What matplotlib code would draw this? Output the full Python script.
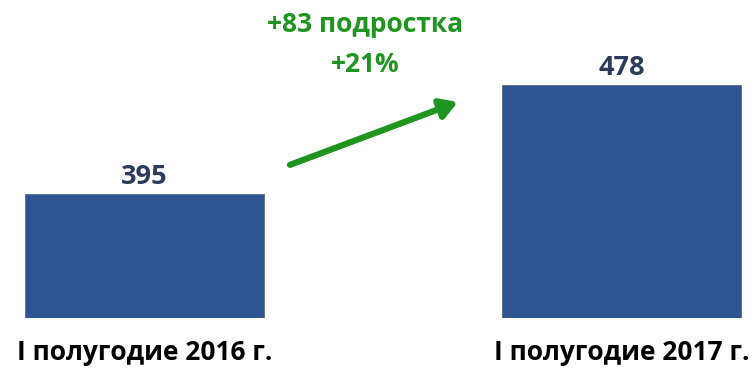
import matplotlib.pyplot as plt

# Teenagers count, first half-year
periods = ['I полугодие 2016 г.', 'I полугодие 2017 г.']
counts = [395, 478]
growth_abs = '+83 подростка'
growth_pct = '+21%'

BAR_COLOR = '#2e5492'
VALUE_COLOR = '#2b3b5c'
GREEN = '#1f951f'

plt.rcParams['font.family'] = ['Open Sans', 'DejaVu Sans']

W, H = 755, 368
fig = plt.figure(figsize=(W / 100, H / 100), dpi=100)

# axes floor is at y=318px, 480 maps to ~82px from top
ax = fig.add_axes([0, 50 / H, 1, (318 - 82.4) / H])
ax.set_ylim(300, 480)
ax.set_xlim(-0.303, 1.280)
ax.axis('off')

xs = range(len(counts))
bars = ax.bar(xs, counts, width=0.503, color=BAR_COLOR, edgecolor='#5a6e8c',
              linewidth=0.6)

for x, v in zip(xs, counts):
    ax.annotate(f'{v}', (x, v), xytext=(0, 12), textcoords='offset points',
                ha='center', va='center', fontsize=19.5, fontweight='bold',
                color=VALUE_COLOR)
    ax.annotate(periods[x], (x, 300), xytext=(0, -25), textcoords='offset points',
                ha='center', va='center', fontsize=19, fontweight='bold',
                color='black', annotation_clip=False)

# growth arrow between the bars
ax.annotate('', xy=(0.657, 465), xytext=(0.305, 417),
            arrowprops=dict(arrowstyle='-|>,head_length=1.0,head_width=0.6',
                            color=GREEN, lw=4.5, shrinkA=0, shrinkB=0),
            annotation_clip=False)
ax.text(0.462, 524, growth_abs, ha='center', va='center', fontsize=19,
        fontweight='bold', color=GREEN, clip_on=False)
ax.text(0.462, 494, growth_pct, ha='center', va='center', fontsize=19,
        fontweight='bold', color=GREEN, clip_on=False)

fig.savefig('out.png', dpi=100, facecolor='white')
